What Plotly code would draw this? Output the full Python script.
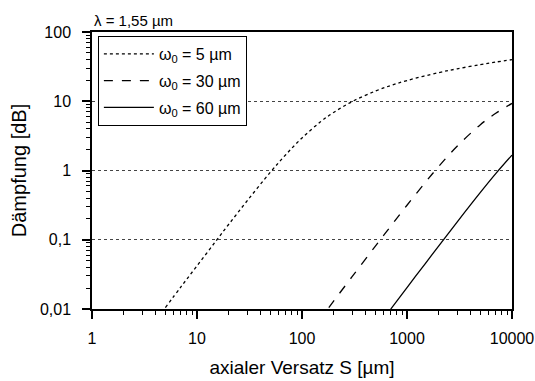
import plotly.graph_objects as go

# Read values from the reference (axial offset S in µm, attenuation in dB)
s_w5 = [5, 7, 10, 15, 20, 30, 50, 70, 100, 150, 200, 300, 500, 700, 1000, 2000, 3000, 5000, 7000, 10000]
d_w5 = [0.0105, 0.0207, 0.042, 0.094, 0.166, 0.364, 0.946, 1.69, 2.95, 5.04, 6.89, 9.89, 14.03, 16.87, 19.92, 25.9, 29.4, 33.86, 36.78, 39.88]

s_w30 = [180, 200, 300, 500, 700, 1000, 1500, 2000, 3000, 5000, 7000, 10000]
d_w30 = [0.0105, 0.013, 0.0293, 0.081, 0.157, 0.315, 0.678, 1.14, 2.24, 4.59, 6.70, 9.30]

s_w60 = [700, 1000, 1500, 2000, 3000, 5000, 7000, 10000]
d_w60 = [0.00998, 0.0204, 0.0457, 0.081, 0.18, 0.482, 0.90, 1.67]

names = ["ω<sub>0</sub> = 5 µm", "ω<sub>0</sub> = 30 µm", "ω<sub>0</sub> = 60 µm"]
dashes = ["dot", "dash", "solid"]

y_tickvals = [0.01, 0.1, 1, 10, 100]
y_ticktext = ["0,01", "0,1", "1", "10", "100"]
x_tickvals = [1, 10, 100, 1000, 10000]
x_ticktext = ["1", "10", "100", "1000", "10000"]

FONT = "Liberation Sans, Arial, sans-serif"

fig = go.Figure()
for i, (xs, ys) in enumerate([(s_w5, d_w5), (s_w30, d_w30), (s_w60, d_w60)]):
    fig.add_trace(go.Scatter(
        x=xs, y=ys, mode="lines", name=names[i], legendgroup=f"g{i}",
        line=dict(color="black", width=1.3, dash=dashes[i], shape="spline"),
    ))

fig.update_layout(
    width=535, height=381,
    margin=dict(l=92, r=23, t=32, b=72),
    paper_bgcolor="white", plot_bgcolor="white",
    font=dict(family=FONT, size=16, color="black"),
    showlegend=True,
    legend=dict(
        x=0.014, y=0.986, xanchor="left", yanchor="top",
        bgcolor="white", bordercolor="black", borderwidth=1,
        font=dict(size=16), traceorder="grouped", tracegroupgap=3,
        itemwidth=50,
    ),
    annotations=[dict(
        text="λ = 1,55 µm", xref="paper", yref="paper", x=0.0, y=1.0,
        xanchor="left", yanchor="bottom", showarrow=False,
        font=dict(size=15), yshift=1,
    )],
)

fig.update_xaxes(
    type="log", range=[0, 4], automargin=False,
    tickvals=x_tickvals, ticktext=x_ticktext,
    ticks="outside", ticklen=8, tickwidth=1.5, tickcolor="black",
    ticklabelstandoff=6,
    showline=True, linecolor="black", linewidth=1.5, mirror=True,
    showgrid=False, zeroline=False,
    minor=dict(ticks="outside", ticklen=4, tickwidth=1.3, tickcolor="black",
               dtick="D1", showgrid=False),
    title=dict(text="axialer Versatz S [µm]", font=dict(size=19), standoff=15),
)
fig.update_yaxes(
    type="log", range=[-2, 2], automargin=False,
    tickvals=y_tickvals, ticktext=y_ticktext,
    ticks="outside", ticklen=8, tickwidth=1.5, tickcolor="black",
    ticklabelstandoff=8,
    showline=True, linecolor="black", linewidth=1.5, mirror=True,
    showgrid=True, gridcolor="#444444", gridwidth=1, griddash="dot",
    zeroline=False,
    minor=dict(ticks="outside", ticklen=4, tickwidth=1.3, tickcolor="black",
               dtick="D1", showgrid=False),
    title=dict(text="Dämpfung [dB]", font=dict(size=20), standoff=8),
)

fig.write_html("out.html")
